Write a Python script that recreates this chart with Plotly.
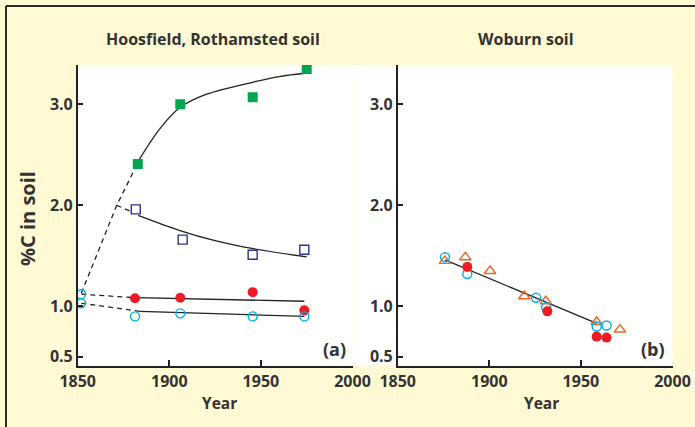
import plotly.graph_objects as go

W, H = 695, 427

# ---------------- Data: Hoosfield, Rothamsted (panel a) ----------------
fym_years = [1882.8, 1906, 1945.5, 1975]
fym_c = [2.41, 3.0, 3.07, 3.35]
fym_fit_years = [1883.5, 1894.9, 1906, 1920.4, 1945.9, 1960, 1975.5]
fym_fit_c = [2.45, 2.76, 2.97, 3.10, 3.22, 3.275, 3.31]

fym_stop_years = [1881.7, 1907.3, 1945.5, 1973.7]
fym_stop_c = [1.96, 1.66, 1.51, 1.56]
fym_stop_fit_years = [1883, 1905.8, 1925, 1945.9, 1975]
fym_stop_fit_c = [1.90, 1.75, 1.65, 1.57, 1.49]

npk_years = [1881.3, 1906, 1945.5, 1973.7]
npk_c = [1.08, 1.085, 1.14, 0.96]
npk_fit_years = [1882.2, 1973.7]
npk_fit_c = [1.085, 1.05]

nil_years = [1851.8, 1851.8, 1881.3, 1906, 1945.5, 1973.7]
nil_c = [1.12, 1.03, 0.90, 0.93, 0.90, 0.90]
nil_fit_years = [1884, 1973.7]
nil_fit_c = [0.95, 0.90]

# dashed extrapolations back to 1850
dash_fym_years = [1852, 1871.3, 1882.8]
dash_fym_c = [1.13, 2.0, 2.42]
dash_stop_years = [1871.3, 1879]
dash_stop_c = [2.0, 1.94]
dash_npk_years = [1852, 1881]
dash_npk_c = [1.12, 1.085]
dash_nil_years = [1852, 1884]
dash_nil_c = [1.03, 0.95]

# ---------------- Data: Woburn (panel b) ----------------
wob_circ_years = [1875.8, 1888, 1925.5, 1931, 1958.6, 1964]
wob_circ_c = [1.485, 1.32, 1.085, 0.99, 0.80, 0.81]
wob_dot_years = [1888, 1931.7, 1958.6, 1964]
wob_dot_c = [1.39, 0.95, 0.70, 0.69]
wob_tri_years = [1875.8, 1886.9, 1900.4, 1919.1, 1930.8, 1958.6, 1971.3]
wob_tri_c = [1.45, 1.485, 1.35, 1.10, 1.05, 0.845, 0.77]
wob_fit_years = [1875.8, 1958.6]
wob_fit_c = [1.46, 0.83]

y_ticks = [0.5, 1.0, 2.0, 3.0]
y_tick_text = ["0.5", "1.0", "2.0", "3.0"]
x_ticks = [1850, 1900, 1950, 2000]
x_tick_text = ["1850", "1900", "1950", "2000"]

# ---------------- Colours ----------------
GREEN = "#00A650"
NAVY = "#2E3192"
RED = "#ED1C24"
CYAN = "#00AEEF"
ORANGE = "#F26522"
INK = "#222222"
TEXT = "#333333"
BG = "#FFF9D4"
FONT = "Open Sans"


def px(x):
    return x / W


def py(y):
    return 1 - y / H


fig = go.Figure()


def line(xs, ys, ax, dash=None, shape="linear"):
    fig.add_trace(go.Scatter(
        x=xs, y=ys, mode="lines", xaxis=ax[0], yaxis=ax[1],
        line=dict(color=INK, width=1.3, dash=dash, shape=shape),
        hoverinfo="skip", showlegend=False))


def pts(xs, ys, ax, symbol, color, filled, size=9):
    if filled:
        m = dict(symbol=symbol, size=size, color=color, line=dict(width=0))
    else:
        m = dict(symbol=symbol + "-open", size=size, color=color,
                 line=dict(width=1.4, color=color))
    fig.add_trace(go.Scatter(x=xs, y=ys, mode="markers", xaxis=ax[0], yaxis=ax[1],
                             marker=m, showlegend=False))


A = ("x", "y")
B = ("x2", "y2")

DASH = "5px,4px"
line(dash_fym_years, dash_fym_c, A, DASH)
line(dash_stop_years, dash_stop_c, A, DASH)
line(dash_npk_years, dash_npk_c, A, DASH)
line(dash_nil_years, dash_nil_c, A, DASH)
line(fym_fit_years, fym_fit_c, A, shape="spline")
line(fym_stop_fit_years, fym_stop_fit_c, A, shape="spline")
line(npk_fit_years, npk_fit_c, A)
line(nil_fit_years, nil_fit_c, A)

pts(fym_years, fym_c, A, "square", GREEN, True, 10)
pts(fym_stop_years, fym_stop_c, A, "square", NAVY, False, 9)
pts(npk_years, npk_c, A, "circle", RED, True, 10)
pts(nil_years, nil_c, A, "circle", CYAN, False, 9)

line(wob_fit_years, wob_fit_c, B)
pts(wob_tri_years, wob_tri_c, B, "triangle-up", ORANGE, False, 10)
pts(wob_circ_years, wob_circ_c, B, "circle", CYAN, False, 9)
pts(wob_dot_years, wob_dot_c, B, "circle", RED, True, 10)

# ---------------- Axes ----------------
ybot, ytop = 366, 65
yrange = [3 - (ybot - 104.3) / 101, 3 + (104.3 - ytop) / 101]
ydom = [py(ybot), py(ytop)]

common_x = dict(range=[1850, 2000], tickvals=x_ticks, ticktext=x_tick_text,
                showline=True, linecolor=INK, linewidth=1.5, ticks="inside",
                ticklen=6, tickwidth=1.5, tickcolor=INK, showgrid=False, zeroline=False,
                tickfont=dict(family=FONT, size=16, color=TEXT, weight="bold"),
                fixedrange=True, automargin=False)
common_y = dict(range=yrange, tickvals=y_ticks, ticktext=y_tick_text,
                showline=True, linecolor=INK, linewidth=1.5, ticks="inside",
                ticklen=6, tickwidth=1.5, tickcolor=INK, showgrid=False, zeroline=False,
                tickfont=dict(family=FONT, size=16, color=TEXT, weight="bold"),
                domain=ydom, fixedrange=True, automargin=False)

fig.update_layout(
    width=W, height=H,
    margin=dict(l=0, r=0, t=0, b=0, pad=0, autoexpand=False),
    paper_bgcolor=BG, plot_bgcolor="white",
    xaxis=dict(common_x, domain=[px(77.7), px(352.5)], anchor="y"),
    yaxis=dict(common_y, anchor="x"),
    xaxis2=dict(common_x, domain=[px(397.7), px(672.5)], anchor="y2"),
    yaxis2=dict(common_y, anchor="x2"),
)

# white band between the two panels
fig.add_shape(type="rect", xref="paper", yref="paper",
              x0=px(352.5), x1=px(397.7), y0=py(ybot), y1=py(ytop),
              fillcolor="white", line=dict(width=0), layer="below")
# frame border (top & left)
fig.add_shape(type="line", xref="paper", yref="paper", x0=px(6), x1=1, y0=py(6), y1=py(6),
              line=dict(color="#2a2a2a", width=2))
fig.add_shape(type="line", xref="paper", yref="paper", x0=px(6), x1=px(6), y0=0, y1=py(6),
              line=dict(color="#2a2a2a", width=2))


def text(x, y, s, size, angle=0):
    fig.add_annotation(x=px(x), y=py(y), xref="paper", yref="paper", text=s,
                       showarrow=False, textangle=angle, xanchor="center", yanchor="middle",
                       font=dict(family=FONT, size=size, color=TEXT, weight="bold"))


text(213, 39, "Hoosfield, Rothamsted soil", 16)
text(526, 39, "Woburn soil", 16)
text(220, 403, "Year", 15.5)
text(541, 403, "Year", 15.5)
text(27, 218, "%C in soil", 20, angle=-90)
text(334, 349, "(a)", 18)
text(653, 349, "(b)", 18)

fig.write_html("out.html", config={"displayModeBar": False},
               post_script="document.body.style.margin='0px';")
